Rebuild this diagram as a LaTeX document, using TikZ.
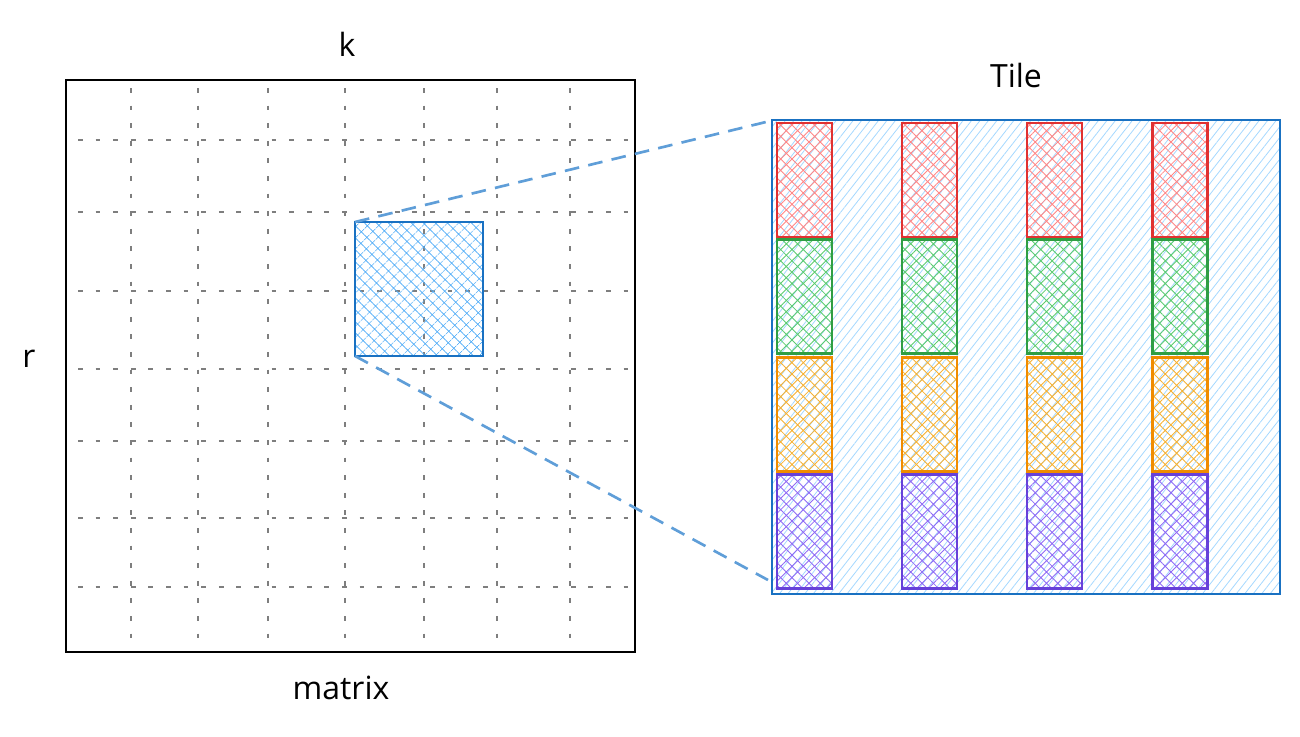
\documentclass[tikz,border=0pt]{standalone}
\usepackage{fontspec}
\setmainfont{Open Sans}
\usepackage{tikz}
\usetikzlibrary{patterns.meta}

\definecolor{gridgray}{HTML}{7E7E7E}
\definecolor{selblue}{HTML}{1971C2}
\definecolor{selbluehatch}{HTML}{4DABF7}
\definecolor{linkblue}{HTML}{5F9ED8}
\definecolor{tilehatch}{HTML}{A5D8FF}
\definecolor{cred}{HTML}{E03131}
\definecolor{credhatch}{HTML}{FF8787}
\definecolor{cgreen}{HTML}{2F9E44}
\definecolor{cgreenhatch}{HTML}{5BCB70}
\definecolor{corange}{HTML}{F08C00}
\definecolor{corangehatch}{HTML}{F5B133}
\definecolor{cpurple}{HTML}{6741D9}
\definecolor{cpurplehatch}{HTML}{8F6BF5}

\tikzset{
  labeltext/.style={inner sep=0.75pt, font=\fontsize{24}{28}\selectfont},
  gridline/.style={draw=gridgray, line width=1.8pt, dash pattern=on 3.6pt off 9.6pt},
  linkline/.style={draw=linkblue, line width=2pt, dash pattern=on 11pt off 7pt},
  cellbox/.style={draw=#1, line width=2pt, inner sep=0pt, outer sep=0pt,
    minimum width=41.25pt, minimum height=85.5pt,
    pattern={Hatch[angle=45,distance=6pt,line width=0.65pt]}, pattern color=#1hatch},
}

\begin{document}
\begin{tikzpicture}[x=0.75pt,y=0.75pt,yscale=-1,xscale=1]
\useasboundingbox (0,0) rectangle (1300,736);

%Shape: Rectangle [matrix frame]
\node [draw=black, line width=1.5pt, inner sep=0pt, minimum width=426.75pt, minimum height=429pt] (mat) at (350.5,366) {};

%Straight Lines [horizontal grid]
\draw [gridline] (78,140) -- (628,140) ;
\draw [gridline] (78,212) -- (628,212) ;
\draw [gridline] (78,291) -- (628,291) ;
\draw [gridline] (78,369) -- (628,369) ;
\draw [gridline] (78,441) -- (628,441) ;
\draw [gridline] (78,518) -- (628,518) ;
\draw [gridline] (78,587) -- (628,587) ;
%Straight Lines [vertical grid]
\draw [gridline] (131,88) -- (131,640) ;
\draw [gridline] (198,88) -- (198,640) ;
\draw [gridline] (268,88) -- (268,640) ;
\draw [gridline] (345,88) -- (345,640) ;
\draw [gridline] (424,88) -- (424,640) ;
\draw [gridline] (497,88) -- (497,640) ;
\draw [gridline] (570,88) -- (570,640) ;

%Shape: Rectangle [selected block]
\node [draw=selblue, line width=2pt, inner sep=0pt, outer sep=0pt, minimum width=96pt, minimum height=100.5pt, pattern={Hatch[angle=45,distance=6.5pt,line width=0.7pt]}, pattern color=selbluehatch] (sel) at (419,289) {};

%Shape: Rectangle [tile]
\node [draw=selblue, line width=2pt, inner sep=0pt, outer sep=0pt, minimum width=381pt, minimum height=355.5pt, pattern={Lines[angle=52,distance=5pt,line width=0.6pt]}, pattern color=tilehatch] (tile) at (1026,357) {};

%Shape: Rectangle [red row]
\node [cellbox=cred] (r1) at (804.5,180) {};
\node [cellbox=cred] (r2) at (929.5,180) {};
\node [cellbox=cred] (r3) at (1054.5,180) {};
\node [cellbox=cred] (r4) at (1180,180) {};
%Shape: Rectangle [green row]
\node [cellbox=cgreen] (g1) at (804.5,296.5) {};
\node [cellbox=cgreen] (g2) at (929.5,296.5) {};
\node [cellbox=cgreen] (g3) at (1054.5,296.5) {};
\node [cellbox=cgreen] (g4) at (1180,296.5) {};
%Shape: Rectangle [orange row]
\node [cellbox=corange] (o1) at (804.5,414.5) {};
\node [cellbox=corange] (o2) at (929.5,414.5) {};
\node [cellbox=corange] (o3) at (1054.5,414.5) {};
\node [cellbox=corange] (o4) at (1180,414.5) {};
%Shape: Rectangle [purple row]
\node [cellbox=cpurple] (p1) at (804.5,531.5) {};
\node [cellbox=cpurple] (p2) at (929.5,531.5) {};
\node [cellbox=cpurple] (p3) at (1054.5,531.5) {};
\node [cellbox=cpurple] (p4) at (1180,531.5) {};

%Straight Lines [zoom links]
\coordinate (zt) at (766,122);
\coordinate (zb) at (768,580);
\draw [linkline] (sel.north west) -- (zt) ;
\draw [linkline] (sel.south west) -- (zb) ;

% Text Node
\node [labeltext] (klabel) at (347,44) {k};
% Text Node
\node [labeltext] (rlabel) at (29,359) {r};
% Text Node
\node [labeltext] (matlabel) at (341,688) {matrix};
% Text Node
\node [labeltext] (tilelabel) at (1016,75) {Tile};

\end{tikzpicture}
\end{document}
